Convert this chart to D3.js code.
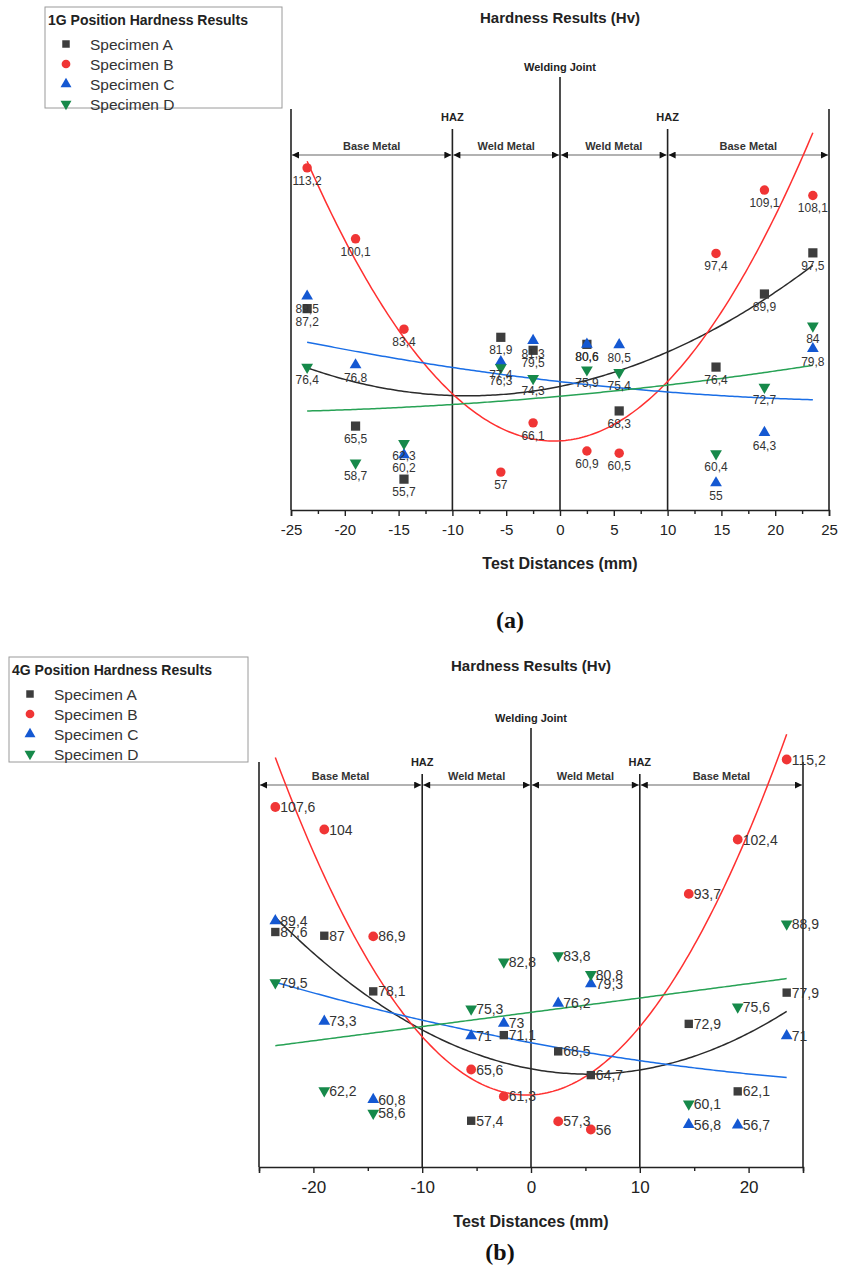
<!DOCTYPE html>
<html>
<head>
<meta charset="utf-8">
<script src="https://cdn.jsdelivr.net/npm/d3@7"></script>
<style>
  html, body { margin: 0; padding: 0; background: #fff; }
  svg { display: block; font-family: Arial, "Liberation Sans", Helvetica, sans-serif; }
</style>
</head>
<body>
<svg id="chart" width="841" height="1267"></svg>
<script>
// Measurement positions along the specimen (mm from the welding joint)
const positions = [-23.5, -19, -14.5, -5.5, -2.5, 2.5, 5.5, 14.5, 19, 23.5];
const specimens = ["Specimen A", "Specimen B", "Specimen C", "Specimen D"];

// 1G position hardness (Hv)
const hv1G_A = [87.2, 65.5, 55.7, 81.9, 79.5, 80.6, 68.3, 76.4, 89.9, 97.5];
const hv1G_B = [113.2, 100.1, 83.4, 57, 66.1, 60.9, 60.5, 97.4, 109.1, 108.1];
const hv1G_C = [89.5, 76.8, 60.2, 77.4, 81.3, 80.6, 80.5, 55, 64.3, 79.8];
const hv1G_D = [76.4, 58.7, 62.3, 76.3, 74.3, 75.9, 75.4, 60.4, 72.7, 84];

// 4G position hardness (Hv)
const hv4G_A = [87.6, 87, 78.1, 57.4, 71.1, 68.5, 64.7, 72.9, 62.1, 77.9];
const hv4G_B = [107.6, 104, 86.9, 65.6, 61.3, 57.3, 56, 93.7, 102.4, 115.2];
const hv4G_C = [89.4, 73.3, 60.8, 71, 73, 76.2, 79.3, 56.8, 56.7, 71];
const hv4G_D = [79.5, 62.2, 58.6, 75.3, 82.8, 83.8, 80.8, 60.1, 75.6, 88.9];

// Axis ticks
const ticks1G = [-25, -20, -15, -10, -5, 0, 5, 10, 15, 20, 25];
const minor1G = [-22.5, -17.5, -12.5, -7.5, -2.5, 2.5, 7.5, 12.5, 17.5, 22.5];
const ticks4G = [-20, -10, 0, 10, 20];
const minor4G = [-25, -15, -5, 5, 15, 25];

// Zone annotations
const zoneBounds = [-25, -10, 0, 10, 25];
const zoneNames = ["Base Metal", "Weld Metal", "Weld Metal", "Base Metal"];

const markerColors = ["#3d3d3d", "#f03535", "#1458d2", "#16894a"];
const fitColors = ["#2b2b2b", "#ff3030", "#1a6ee6", "#27a255"];
const symbols = [d3.symbolSquare, d3.symbolCircle, d3.symbolTriangle, d3.symbolTriangle];

const svg = d3.select("#chart");

// Arrowhead markers
const defs = svg.append("defs");
defs.append("marker")
  .attr("id", "arrowHead")
  .attr("viewBox", "0 0 10 10")
  .attr("refX", 10).attr("refY", 5)
  .attr("markerWidth", 10).attr("markerHeight", 7)
  .attr("markerUnits", "userSpaceOnUse")
  .attr("orient", "auto-start-reverse")
  .append("path").attr("d", "M0,0 L10,5 L0,10 z").attr("fill", "#111");

// Least-squares quadratic fit y = a + b x + c x^2
function quadFit(xs, ys) {
  let s = [0, 0, 0, 0, 0], t = [0, 0, 0];
  xs.forEach((x, i) => {
    let p = 1;
    for (let k = 0; k < 5; k++) { s[k] += p; if (k < 3) t[k] += p * ys[i]; p *= x; }
  });
  const M = [[s[0], s[1], s[2], t[0]], [s[1], s[2], s[3], t[1]], [s[2], s[3], s[4], t[2]]];
  for (let i = 0; i < 3; i++) {
    for (let j = i + 1; j < 3; j++) {
      const f = M[j][i] / M[i][i];
      for (let k = i; k < 4; k++) M[j][k] -= f * M[i][k];
    }
  }
  const r = [0, 0, 0];
  for (let i = 2; i >= 0; i--) {
    let v = M[i][3];
    for (let k = i + 1; k < 3; k++) v -= M[i][k] * r[k];
    r[i] = v / M[i][i];
  }
  return x => r[0] + r[1] * x + r[2] * x * x;
}

const fmt = v => String(v).replace(".", ",");

function drawPanel(cfg) {
  const g = svg.append("g");
  const x = d3.scaleLinear().domain([-25, 25]).range([cfg.left, cfg.right]);
  const y = d3.scaleLinear().domain([50, cfg.yTop]).range([cfg.bottom, cfg.top]);

  // Legend
  const lg = g.append("g");
  lg.append("rect")
    .attr("x", cfg.legend.x).attr("y", cfg.legend.y)
    .attr("width", cfg.legend.w).attr("height", cfg.legend.h)
    .attr("fill", "#fff").attr("stroke", "#9a9a9a").attr("stroke-width", 1);
  lg.append("text")
    .attr("x", cfg.legend.x + 3).attr("y", cfg.legend.y + 18)
    .attr("font-size", 14).attr("font-weight", "bold").attr("fill", "#222")
    .text(cfg.legendTitle);
  specimens.forEach((name, i) => {
    const yy = cfg.legend.y + 37 + i * 20;
    lg.append("path")
      .attr("d", d3.symbol(symbols[i], i === 1 ? 60 : i === 0 ? 56 : 52)())
      .attr("transform", `translate(${cfg.legend.x + 21},${yy})` + (i === 3 ? " rotate(180)" : ""))
      .attr("fill", markerColors[i]);
    lg.append("text")
      .attr("x", cfg.legend.x + 45).attr("y", yy + 5.5)
      .attr("font-size", 15.5).attr("fill", "#333")
      .text(name);
  });

  // Title
  g.append("text")
    .attr("x", x(0)).attr("y", cfg.titleY)
    .attr("text-anchor", "middle")
    .attr("font-size", 15).attr("font-weight", "bold").attr("fill", "#222")
    .text("Hardness Results (Hv)");

  // Frame sides
  g.append("line")
    .attr("x1", x(-25)).attr("x2", x(-25))
    .attr("y1", cfg.frameTop).attr("y2", cfg.bottom)
    .attr("stroke", "#222").attr("stroke-width", 1.6);
  g.append("line")
    .attr("x1", x(25)).attr("x2", x(25))
    .attr("y1", cfg.frameTop).attr("y2", cfg.bottom)
    .attr("stroke", "#222").attr("stroke-width", 1.6);

  // Welding joint and HAZ boundaries
  g.append("line")
    .attr("x1", x(0)).attr("x2", x(0))
    .attr("y1", cfg.jointTop).attr("y2", cfg.bottom)
    .attr("stroke", "#222").attr("stroke-width", 1.6);
  g.append("text")
    .attr("x", x(0)).attr("y", cfg.jointTop - 6)
    .attr("text-anchor", "middle")
    .attr("font-size", 11).attr("font-weight", "bold").attr("fill", "#222")
    .text("Welding Joint");
  [-10, 10].forEach(v => {
    g.append("line")
      .attr("x1", x(v)).attr("x2", x(v))
      .attr("y1", cfg.hazTop).attr("y2", cfg.bottom)
      .attr("stroke", "#222").attr("stroke-width", 1.6);
    g.append("text")
      .attr("x", x(v)).attr("y", cfg.hazTop - 8)
      .attr("text-anchor", "middle")
      .attr("font-size", 11).attr("font-weight", "bold").attr("fill", "#222")
      .text("HAZ");
  });

  // Zone arrows
  zoneNames.forEach((name, i) => {
    const x0 = x(zoneBounds[i]), x1 = x(zoneBounds[i + 1]);
    g.append("line")
      .attr("x1", x0 + 1).attr("x2", x1 - 1)
      .attr("y1", cfg.arrowY).attr("y2", cfg.arrowY)
      .attr("stroke", "#666").attr("stroke-width", 1.2)
      .attr("marker-start", "url(#arrowHead)")
      .attr("marker-end", "url(#arrowHead)");
    g.append("text")
      .attr("x", (x0 + x1) / 2).attr("y", cfg.arrowY - 5)
      .attr("text-anchor", "middle")
      .attr("font-size", 11).attr("font-weight", "bold").attr("fill", "#333")
      .text(name);
  });

  // Bottom axis
  const axis = d3.axisBottom(x).tickValues(cfg.ticks).tickSize(6).tickPadding(8)
    .tickFormat(d => d3.format("d")(d).replace("−", "-"));
  const ax = g.append("g").attr("transform", `translate(0,${cfg.bottom})`).call(axis);
  ax.select(".domain").attr("stroke", "#222").attr("stroke-width", 1.6);
  ax.selectAll(".tick line").attr("stroke", "#222").attr("stroke-width", 1.4);
  ax.selectAll(".tick text")
    .attr("font-size", cfg.tickFont).attr("fill", "#222")
    .attr("font-family", "Arial, 'Liberation Sans', sans-serif");
  const axMinor = d3.axisBottom(x).tickValues(cfg.minor).tickSize(4).tickFormat("");
  const axm = g.append("g").attr("transform", `translate(0,${cfg.bottom})`).call(axMinor);
  axm.select(".domain").remove();
  axm.selectAll(".tick line").attr("stroke", "#222").attr("stroke-width", 1.4);

  g.append("text")
    .attr("x", x(0)).attr("y", cfg.xTitleY)
    .attr("text-anchor", "middle")
    .attr("font-size", 16).attr("font-weight", "bold").attr("fill", "#222")
    .text("Test Distances (mm)");

  // Quadratic trend curves
  const xsFit = d3.range(positions[0], positions[positions.length - 1] + 0.01, 0.25);
  cfg.series.forEach((vals, i) => {
    const f = quadFit(positions, vals);
    g.append("path")
      .datum(xsFit)
      .attr("d", d3.line().x(d => x(d)).y(d => y(f(d))))
      .attr("fill", "none")
      .attr("stroke", fitColors[i]).attr("stroke-width", 1.5);
  });

  // Markers
  cfg.series.forEach((vals, i) => {
    g.selectAll(null).data(vals).enter().append("path")
      .attr("d", d3.symbol(symbols[i], cfg.symSize[i])())
      .attr("transform", (d, k) => `translate(${x(positions[k])},${y(d)})` + (i === 3 ? " rotate(180)" : ""))
      .attr("fill", markerColors[i]);
  });

  // Value labels
  cfg.series.forEach((vals, i) => {
    g.selectAll(null).data(vals).enter().append("text")
      .attr("x", (d, k) => x(positions[k]) + cfg.labelDx)
      .attr("y", d => y(d) + cfg.labelDy)
      .attr("text-anchor", cfg.labelAnchor)
      .attr("font-size", cfg.labelFont).attr("fill", "#333")
      .text(d => fmt(d));
  });

  // Panel caption
  g.append("text")
    .attr("x", cfg.captionX).attr("y", cfg.captionY)
    .attr("text-anchor", "middle")
    .attr("font-family", "'Liberation Serif', 'Times New Roman', serif")
    .attr("font-size", 24).attr("font-weight", "bold").attr("fill", "#111")
    .text(cfg.caption);
}

drawPanel({
  left: 291, right: 829, top: 104, bottom: 510, yTop: 125,
  frameTop: 109, jointTop: 77, hazTop: 129, arrowY: 155, titleY: 23,
  ticks: ticks1G, minor: minor1G, tickFont: 15, xTitleY: 569,
  legend: { x: 45, y: 7, w: 237, h: 101 },
  legendTitle: "1G Position Hardness Results",
  series: [hv1G_A, hv1G_B, hv1G_C, hv1G_D],
  symSize: [85, 70, 60, 60],
  labelDx: 0, labelDy: 17, labelAnchor: "middle", labelFont: 12,
  caption: "(a)", captionX: 510, captionY: 628
});

drawPanel({
  left: 259, right: 803, top: 729.5, bottom: 1167, yTop: 120,
  frameTop: 762, jointTop: 728, hazTop: 774, arrowY: 785, titleY: 671,
  ticks: ticks4G, minor: minor4G, tickFont: 17, xTitleY: 1227,
  legend: { x: 9, y: 657, w: 239, h: 105 },
  legendTitle: "4G Position Hardness Results",
  series: [hv4G_A, hv4G_B, hv4G_C, hv4G_D],
  symSize: [70, 75, 60, 60],
  labelDx: 5, labelDy: 5, labelAnchor: "start", labelFont: 14,
  caption: "(b)", captionX: 500, captionY: 1260
});
</script>
</body>
</html>
